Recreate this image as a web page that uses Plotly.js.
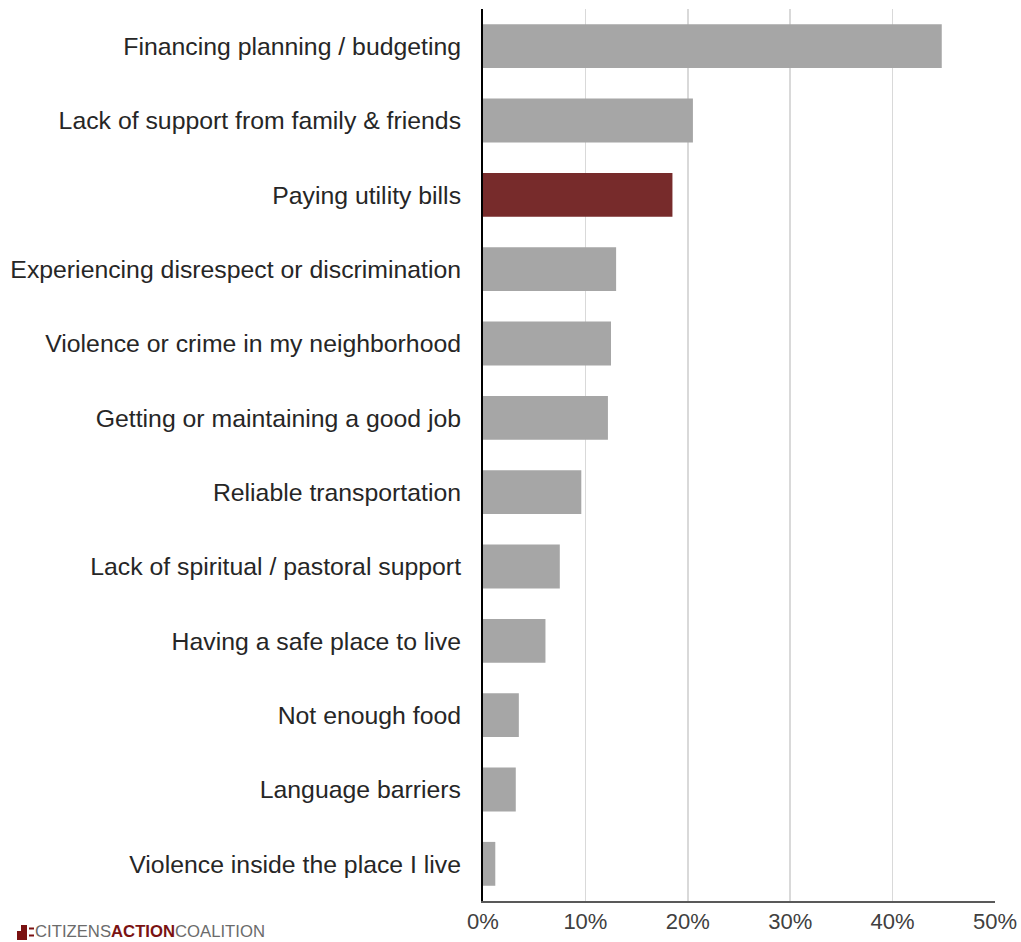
<!DOCTYPE html>
<html>
<head>
<meta charset="utf-8">
<script src="https://cdn.plot.ly/plotly-3.0.1.min.js"></script>
<style>html,body{margin:0;padding:0;background:#fff;}#chart{width:1021px;height:942px;}</style>
</head>
<body>
<div id="chart"></div>
<script>
const categories = [
  "Financing planning / budgeting",
  "Lack of support from family & friends",
  "Paying utility bills",
  "Experiencing disrespect or discrimination",
  "Violence or crime in my neighborhood",
  "Getting or maintaining a good job",
  "Reliable transportation",
  "Lack of spiritual / pastoral support",
  "Having a safe place to live",
  "Not enough food",
  "Language barriers",
  "Violence inside the place I live"
];
const values = [0.448, 0.205, 0.185, 0.130, 0.125, 0.122, 0.096, 0.075, 0.061, 0.035, 0.032, 0.012];
const highlight = "Paying utility bills";
const tickVals = [0, 0.1, 0.2, 0.3, 0.4, 0.5];
const tickText = ["0%", "10%", "20%", "30%", "40%", "50%"];

const colors = categories.map(c => c === highlight ? "#772b2b" : "#a6a6a6");

const W = 1021, H = 942;
const m = {l: 483, r: 26, t: 9, b: 41};
const pw = W - m.l - m.r, ph = H - m.t - m.b;
const px = x => (x - m.l) / pw;
const py = y => (H - m.b - y) / ph;

const trace = {
  type: "bar",
  orientation: "h",
  y: categories,
  x: values,
  marker: {color: colors, line: {width: 0}},
  hoverinfo: "none"
};

const layout = {
  width: W, height: H,
  margin: m,
  paper_bgcolor: "#fff",
  plot_bgcolor: "#fff",
  bargap: 0.41,
  showlegend: false,
  font: {family: "Liberation Sans, Arial, sans-serif", size: 21, color: "#404040"},
  xaxis: {
    range: [0, 0.5],
    tickvals: tickVals,
    ticktext: tickText,
    showgrid: true,
    gridcolor: "#d9d9d9",
    gridwidth: 1.5,
    zeroline: false,
    showline: true,
    linecolor: "#595959",
    linewidth: 2,
    ticks: "",
    ticklen: 0,
    tickfont: {size: 22, color: "#404040"},
    fixedrange: true
  },
  yaxis: {
    autorange: "reversed",
    showline: true,
    linecolor: "#000",
    linewidth: 2,
    ticks: "",
    showgrid: false,
    zeroline: false,
    tickfont: {size: 24.8, color: "#262626"},
    ticklabelstandoff: 15,
    fixedrange: true
  },
  shapes: [
    {type: "rect", xref: "paper", yref: "paper", x0: px(21), x1: px(27), y0: py(940), y1: py(925), fillcolor: "#7a1212", line: {width: 0}},
    {type: "rect", xref: "paper", yref: "paper", x0: px(17), x1: px(21), y0: py(940), y1: py(931), fillcolor: "#7a1212", line: {width: 0}},
    {type: "rect", xref: "paper", yref: "paper", x0: px(29), x1: px(34), y0: py(929.5), y1: py(927.5), fillcolor: "#7a1212", line: {width: 0}},
    {type: "rect", xref: "paper", yref: "paper", x0: px(29), x1: px(34), y0: py(936.5), y1: py(934.5), fillcolor: "#7a1212", line: {width: 0}}
  ],
  annotations: [
    {
      xref: "paper", yref: "paper",
      x: px(34), y: py(942),
      xanchor: "left", yanchor: "bottom",
      showarrow: false,
      borderpad: 0,
      text: "<span style='color:#6b6b6b'>CITIZENS</span><b><span style='color:#7a1212'>ACTION</span></b><span style='color:#6b6b6b'>COALITION</span>",
      font: {family: "Liberation Sans Narrow, Arial Narrow, Liberation Sans, sans-serif", size: 16.7}
    }
  ]
};

Plotly.newPlot("chart", [trace], layout, {displayModeBar: false, staticPlot: true});
</script>
</body>
</html>
